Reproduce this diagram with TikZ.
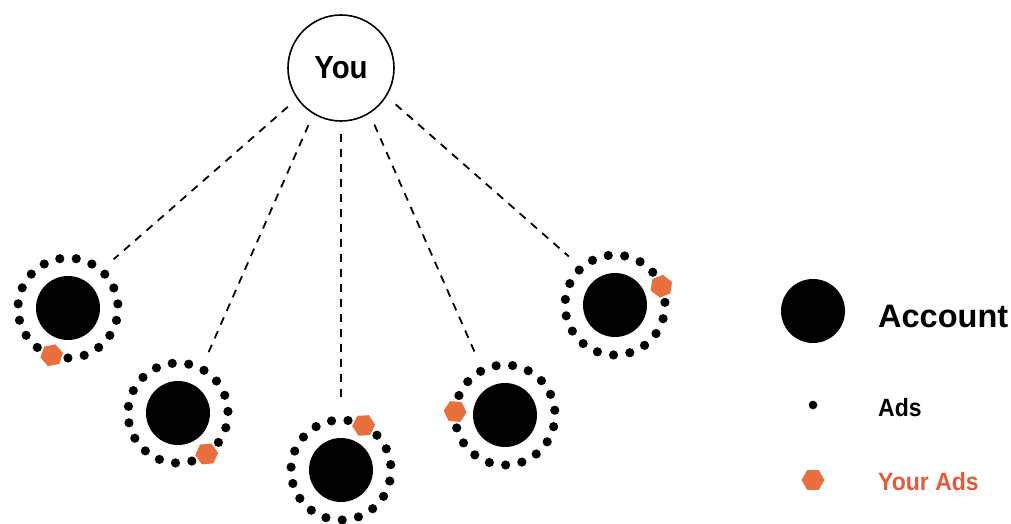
\documentclass[tikz,border=0pt]{standalone}
\usepackage{fontspec}
\setmainfont{Liberation Sans}[FakeStretch=0.92]
\newfontfamily\widefont{Liberation Sans}
\usetikzlibrary{shapes.geometric}

\definecolor{adorange}{HTML}{E8703F}
\definecolor{adred}{HTML}{E35A3D}

\tikzset{
  account/.style={circle, fill=black, minimum size=64pt, inner sep=0pt},
  yourad/.style={regular polygon, regular polygon sides=6, fill=adorange, minimum size=23pt, inner sep=0pt},
  link/.style={dash pattern=on 8pt off 7pt, line width=1.8pt, shorten <=12pt, shorten >=35pt},
  label/.style={anchor=base west, inner sep=0pt, font=\bfseries\fontsize{25}{25}\selectfont},
}

\begin{document}
\begin{tikzpicture}[x=1pt, y=1pt]
\useasboundingbox (0,0) rectangle (1011,523);

% Root
\node[draw, circle, line width=1.6pt, minimum size=106pt, inner sep=0pt,
      font=\bfseries\fontsize{32}{32}\selectfont] (you) at (341,455) {You};

% Accounts with their ring of ads; \h is where your ad sits
\foreach \n/\x/\y/\h in {1/68/215/251, 2/178/110/305, 3/341/53/63, 4/505/108/176, 5/615/218/22} {
  \node[account] (a\n) at (\x,\y) {};
  \foreach \k in {1,...,18}
    \fill (a\n) ++({\h+\k*360/19}:50) circle[radius=4.6];
  \path (a\n) ++(\h:50) node[yourad, rotate=\h] (h\n) {};
}

% Links
\draw[link] (you.215) -- (a1.53);
\draw[link] (you.-121) -- (a2.60);
\draw[link] (you.-90) -- (a3.90);
\draw[link] (you.-58) -- (a4.118);
\draw[link] (you.-32) -- (a5.128);

% Legend
\node[account] (legacc) at (813,212) {};
\node[label, font=\widefont\bfseries\fontsize{32.5}{33}\selectfont] (legacctext) at (878,196) {Account};
\node[circle, fill=black, minimum size=8.6pt, inner sep=0pt] (legad) at (813,118) {};
\node[label] (legadtext) at (878,107) {Ads};
\node[yourad] (legyour) at (813,43) {};
\node[label, text=adred] (legyourtext) at (878,33) {Your Ads};
\end{tikzpicture}
\end{document}
